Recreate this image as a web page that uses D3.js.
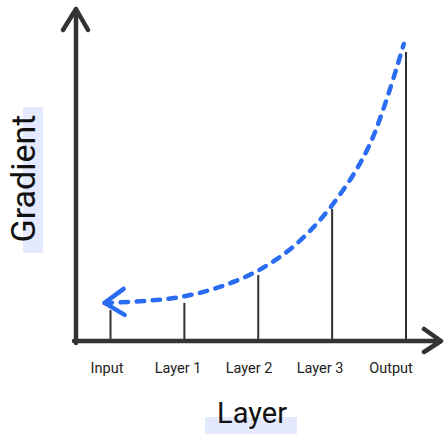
<!DOCTYPE html>
<html>
<head>
<meta charset="utf-8">
<script src="https://cdn.jsdelivr.net/npm/d3@7"></script>
<style>
  html, body { margin: 0; padding: 0; background: #fff; }
  svg { display: block; }
</style>
</head>
<body>
<script>
// ---- data ----
const categories = ["Input", "Layer 1", "Layer 2", "Layer 3", "Output"];
const gradientValues = [10.3, 12.7, 22, 44, 96.3];
const curveIndex = [-0.08, 0.5, 1, 1.5, 2, 2.5, 3, 3.5, 3.97];
const curveValues = [12.7, 13.4, 14.9, 18.2, 23.5, 32, 45.3, 65, 99];
const xTitle = "Layer";
const yTitle = "Gradient";

const W = 444, H = 434;
const svg = d3.select("body").append("svg").attr("width", W).attr("height", H);

const x = d3.scaleLinear().domain([0, categories.length - 1]).range([110.5, 406]);
const y = d3.scaleLinear().domain([0, 100]).range([341, 41]);
const xLabel = d3.scalePoint().domain(categories).range([107, 391]);

const axisColor = "#333333";
const blue = "#2B6DF2";

// title highlights
svg.append("rect").attr("x", 205).attr("y", 417).attr("width", 92).attr("height", 17).attr("fill", "#e4e9fd");
svg.append("rect").attr("x", 23).attr("y", 107).attr("width", 20).attr("height", 146).attr("fill", "#e4e9fd");

// bars
svg.selectAll("line.bar").data(gradientValues).join("line")
  .attr("class", "bar")
  .attr("x1", (d, i) => x(i)).attr("x2", (d, i) => x(i))
  .attr("y1", y(0)).attr("y2", d => y(d))
  .attr("stroke", axisColor).attr("stroke-width", 2);

// axes
const x0 = 76, y0 = y(0);
svg.append("path")
  .attr("d", `M${x0},${y0 + 2}L${x0},9 M${x0 - 13},30L${x0},9L${x0 + 12},30`)
  .attr("fill", "none").attr("stroke", axisColor).attr("stroke-width", 4.5)
  .attr("stroke-linecap", "round").attr("stroke-linejoin", "round");
svg.append("path")
  .attr("d", `M${x0 - 2},${y0}L441,${y0} M424,${y0 - 12}L441,${y0}L424,${y0 + 11}`)
  .attr("fill", "none").attr("stroke", axisColor).attr("stroke-width", 4.5)
  .attr("stroke-linecap", "round").attr("stroke-linejoin", "round");

// tick labels
svg.selectAll("text.tick").data(categories).join("text")
  .attr("class", "tick")
  .attr("x", d => xLabel(d)).attr("y", 373)
  .attr("text-anchor", "middle")
  .attr("font-family", "Roboto, sans-serif").attr("font-size", 14.5)
  .attr("fill", "#222").text(d => d);

// dashed curve
const pts = curveIndex.map((c, i) => [x(c), y(curveValues[i])]);
const line = d3.line().curve(d3.curveCatmullRom.alpha(0.5));
svg.append("path").attr("d", line(pts))
  .attr("fill", "none").attr("stroke", blue).attr("stroke-width", 4.5)
  .attr("stroke-linecap", "round").attr("stroke-dasharray", "7.5 8.5");

// arrow head at start of curve
const [tx, ty] = pts[0];
svg.append("path")
  .attr("d", `M${tx + 19},${ty - 14}L${tx},${ty}L${tx + 20},${ty + 12}`)
  .attr("fill", "none").attr("stroke", blue).attr("stroke-width", 4.5)
  .attr("stroke-linecap", "round").attr("stroke-linejoin", "round");

// titles
svg.append("text").attr("x", 252).attr("y", 423)
  .attr("text-anchor", "middle")
  .attr("font-family", "Roboto, sans-serif").attr("font-size", 29)
  .attr("fill", "#111").text(xTitle);
svg.append("text")
  .attr("transform", "translate(35,178.5) rotate(-90)")
  .attr("text-anchor", "middle")
  .attr("font-family", "Roboto, sans-serif").attr("font-size", 34)
  .attr("fill", "#111").text(yTitle);
</script>
</body>
</html>
